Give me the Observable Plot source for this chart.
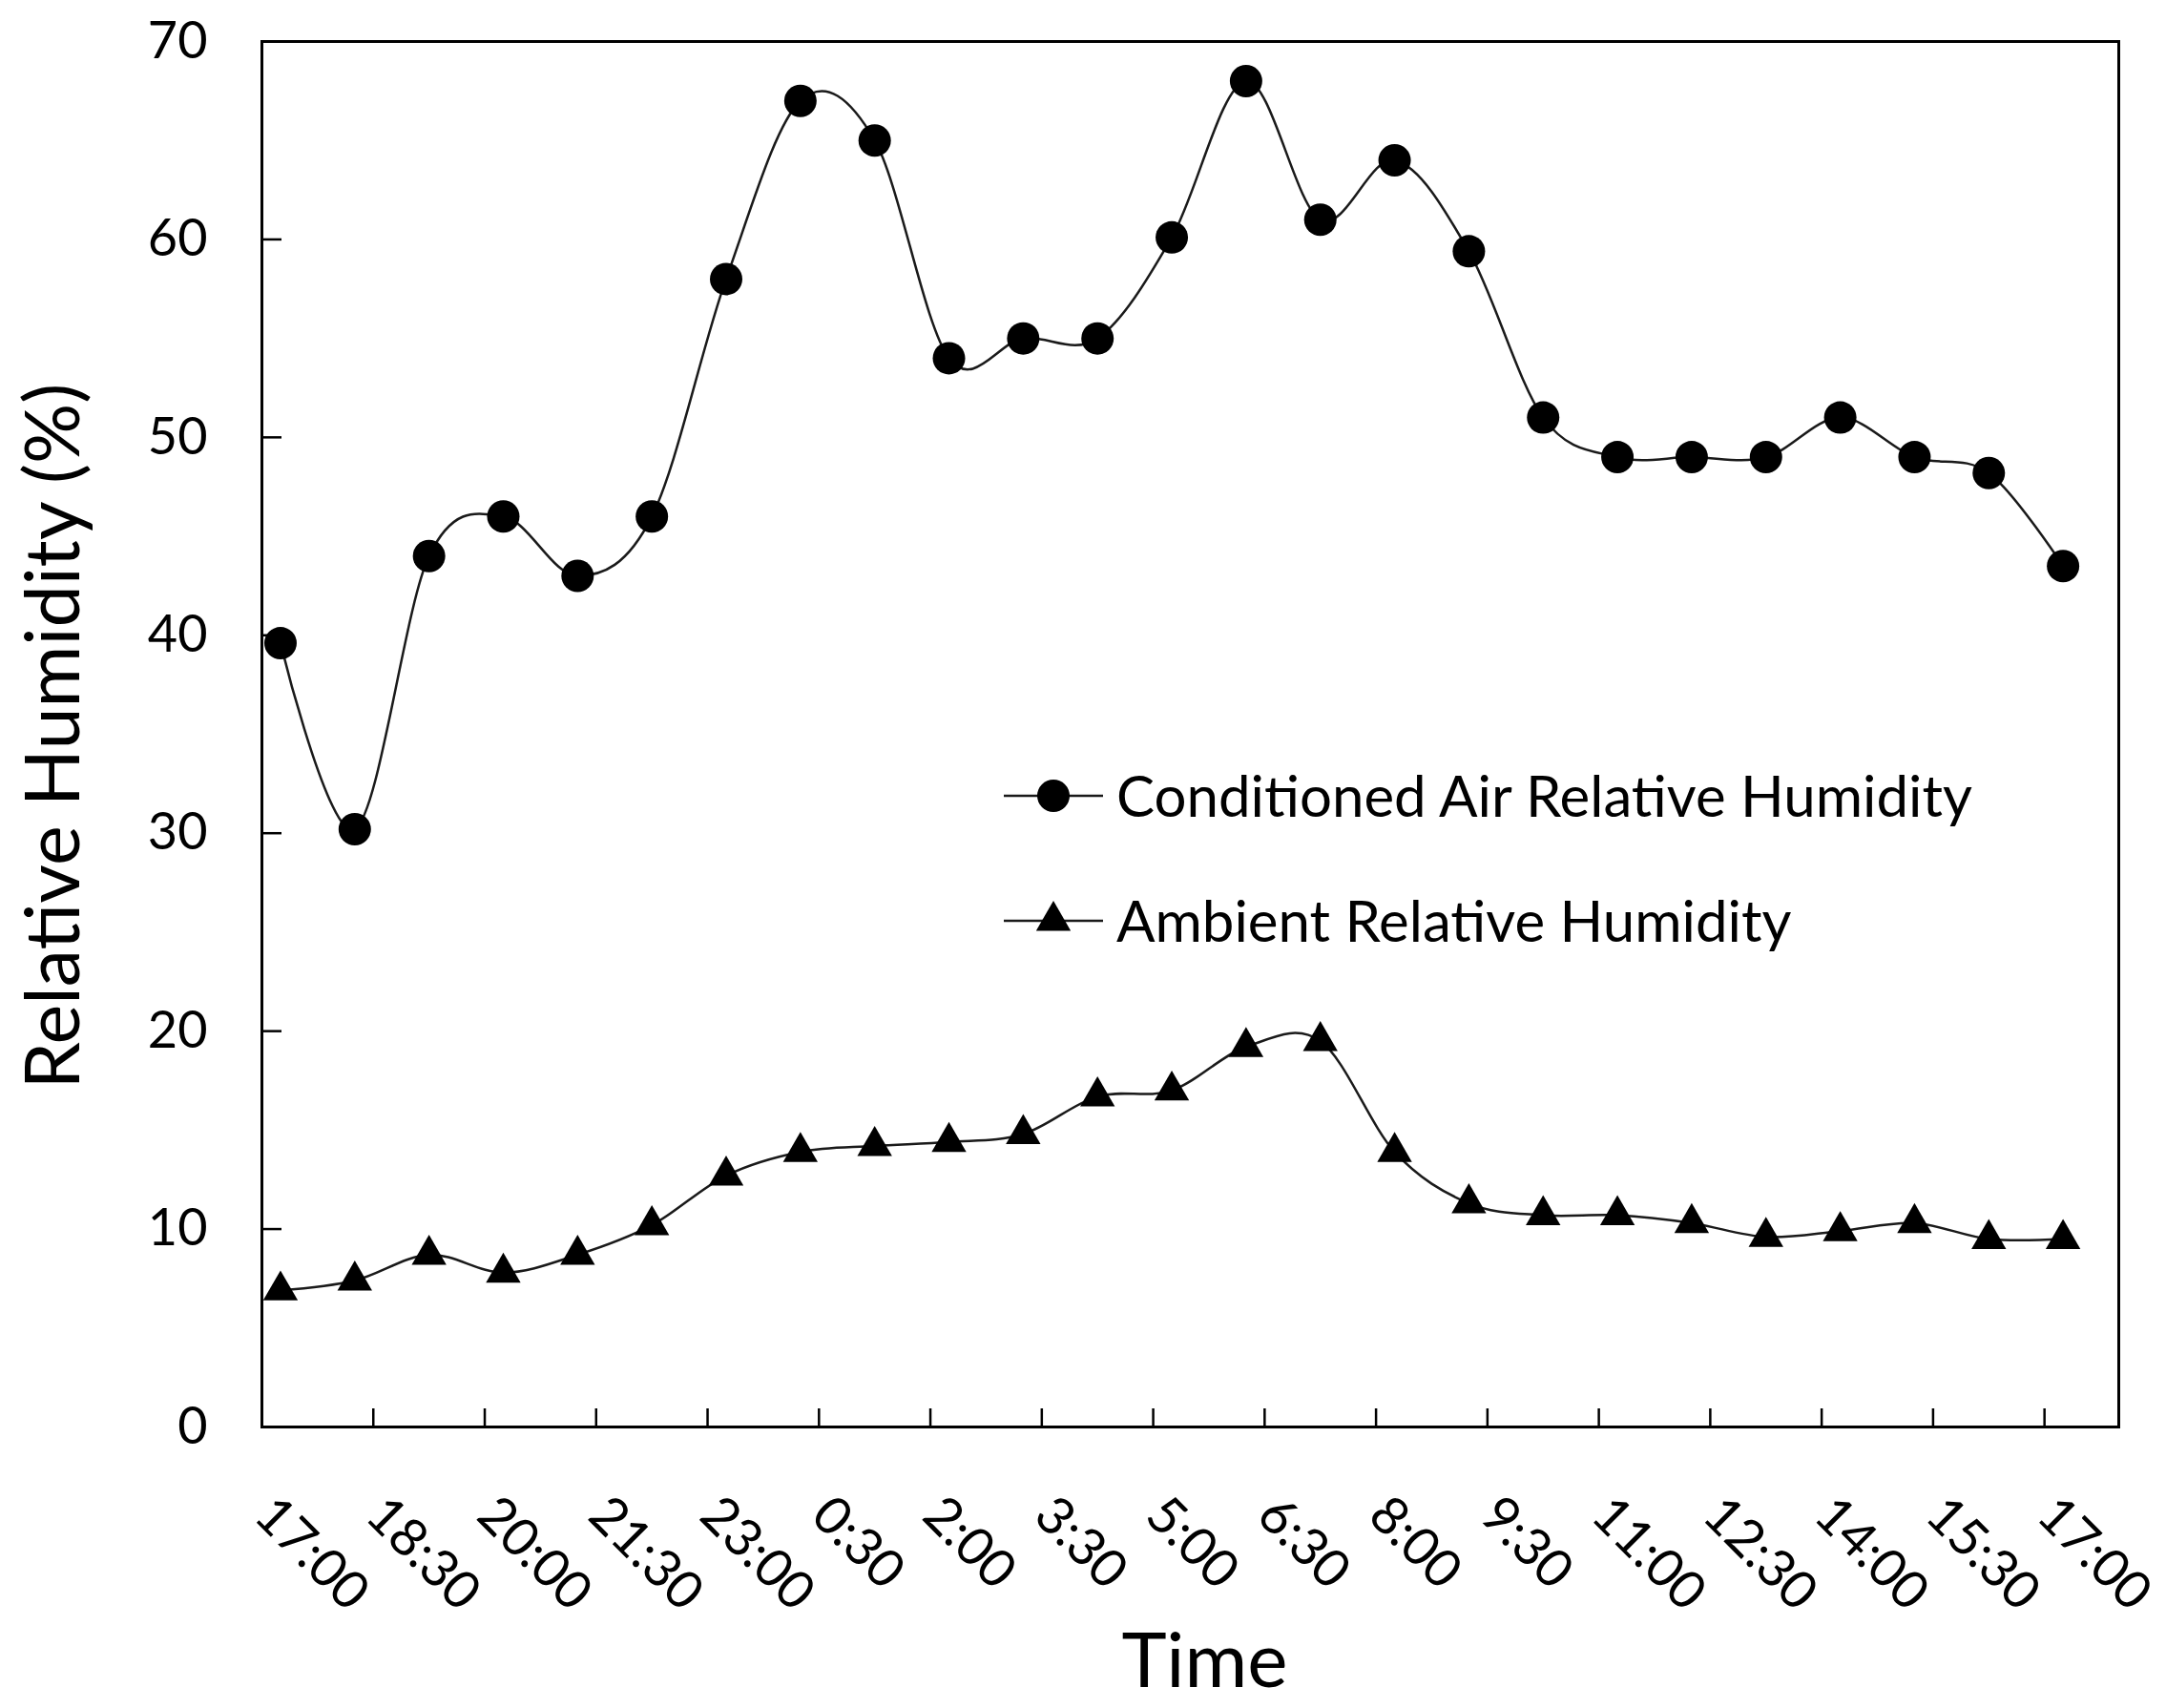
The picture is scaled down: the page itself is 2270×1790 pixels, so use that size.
<!DOCTYPE html>
<html>
<head>
<meta charset="utf-8">
<script src="https://cdn.jsdelivr.net/npm/d3@7"></script>
<script src="https://cdn.jsdelivr.net/npm/@observablehq/plot@0.6"></script>
<style>
  body { margin: 0; background: #fff; }
  #wrap { position: relative; width: 2270px; height: 1790px; font-family: Lato, sans-serif; }
  #legend { position: absolute; left: 0; top: 0; pointer-events: none; }
</style>
</head>
<body>
<div id="wrap"></div>
<script>
// ---- data ----
const timeTicks = ["17:00","18:30","20:00","21:30","23:00","0:30","2:00","3:30","5:00","6:30","8:00","9:30","11:00","12:30","14:00","15:30","17:00"];
const sampleTimes = ["17:15","18:15","19:15","20:15","21:15","22:15","23:15","0:15","1:15","2:15","3:15","4:15","5:15","6:15","7:15","8:15","9:15","10:15","11:15","12:15","13:15","14:15","15:15","16:15","17:15"];
const conditioned = [39.6, 30.2, 44, 46, 43, 46, 58, 67, 65, 54, 55, 55, 60.1, 68, 61, 64, 59.4, 51, 49, 49, 49, 51, 49, 48.2, 43.5];
const ambient = [6.9, 7.4, 8.7, 7.8, 8.7, 10.2, 12.7, 13.9, 14.2, 14.4, 14.8, 16.7, 17.0, 19.2, 19.5, 13.9, 11.3, 10.7, 10.7, 10.3, 9.6, 9.9, 10.3, 9.5, 9.5];
const yTicks = [0, 10, 20, 30, 40, 50, 60, 70];
const seriesNames = ["Conditioned Air Relative Humidity", "Ambient Relative Humidity"];

// hours elapsed since 17:00 on the first day
function toHours(list) {
  let prev = -Infinity, off = 0;
  return list.map(s => {
    const [H, M] = s.split(":").map(Number);
    let h = (((H * 60 + M) - 17 * 60 + 1440) % 1440) / 60;
    if (h + off < prev) off += 24;
    prev = h + off;
    return h + off;
  });
}
const tickHours = toHours(timeTicks);
const sampleHours = toHours(sampleTimes);
const condRows = sampleHours.map((t, i) => ({t, v: conditioned[i]}));
const ambRows = sampleHours.map((t, i) => ({t, v: ambient[i]}));

const FONT = "Lato, sans-serif";

const chart = Plot.plot({
  width: 2270,
  height: 1790,
  marginLeft: 274,
  marginRight: 50,
  marginTop: 43,
  marginBottom: 295,
  x: {type: "linear", domain: [0, 25]},
  y: {domain: [0, 70]},
  style: {fontFamily: FONT, background: "white", color: "black"},
  marks: [
    Plot.axisY({ticks: yTicks, tickSize: -21, tickPadding: 78, fontSize: 54, label: null, strokeWidth: 2.5}),
    Plot.axisX({ticks: tickHours, tickSize: -19, tickFormat: () => "", label: null, strokeWidth: 2.5}),
    Plot.text(tickHours, {x: d => d, text: (d, i) => timeTicks[i], frameAnchor: "bottom", rotate: 45, textAnchor: "start", lineAnchor: "middle", dx: 2, dy: 83, fontSize: 55, fill: "black"}),
    Plot.line(condRows, {x: "t", y: "v", curve: "cardinal", stroke: "#1a1a1a", strokeWidth: 2.5}),
    Plot.line(ambRows, {x: "t", y: "v", curve: "cardinal", stroke: "#1a1a1a", strokeWidth: 2.5}),
    Plot.dot(condRows, {x: "t", y: "v", r: 17, fill: "black", symbol: "circle"}),
    Plot.dot(ambRows, {x: "t", y: "v", r: 13.5, fill: "black", symbol: "triangle"}),
    Plot.frame({stroke: "black", strokeWidth: 3}),
    Plot.text(["Relative Humidity (%)"], {frameAnchor: "left", textAnchor: "middle", rotate: -90, dx: -217, dy: 2, lineAnchor: "middle", fontSize: 79, fill: "black"}),
    Plot.text(["Time"], {frameAnchor: "bottom", textAnchor: "middle", dx: 15, dy: 247, lineAnchor: "middle", fontSize: 80, fill: "black"})
  ]
});

const wrap = document.getElementById("wrap");
wrap.appendChild(chart);

// ---- legend overlay (inside plot area, as in the original) ----
const lg = d3.create("svg").attr("id", "legend").attr("width", 2270).attr("height", 1790);
const items = [
  {name: seriesNames[0], y: 834, symbol: d3.symbolCircle, r: 17},
  {name: seriesNames[1], y: 965, symbol: d3.symbolTriangle, r: 13.5}
];
for (const it of items) {
  const g = lg.append("g").attr("transform", `translate(0,${it.y})`);
  g.append("line").attr("x1", 1052).attr("x2", 1156).attr("y1", 0).attr("y2", 0).attr("stroke", "#1a1a1a").attr("stroke-width", 2.5);
  g.append("path").attr("transform", "translate(1104,0)").attr("d", d3.symbol(it.symbol, Math.PI * it.r * it.r)()).attr("fill", "black");
  g.append("text").attr("x", 1170).attr("y", 0).attr("dy", "0.36em").attr("font-family", FONT).attr("font-size", 60).attr("fill", "black").text(it.name);
}
wrap.appendChild(lg.node());
</script>
</body>
</html>
